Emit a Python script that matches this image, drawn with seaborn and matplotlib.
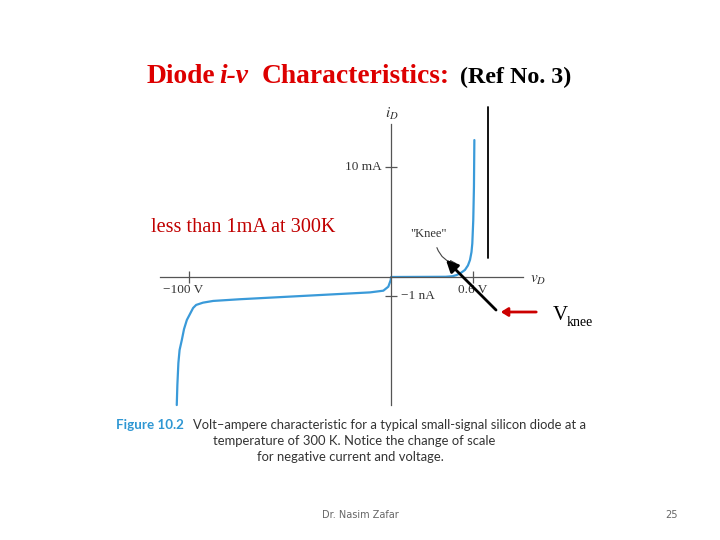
import numpy as np
import pandas as pd
import matplotlib
matplotlib.use("Agg")
import matplotlib.pyplot as plt
from matplotlib.lines import Line2D
from matplotlib.patches import FancyArrowPatch
import seaborn as sns

# ---- data ----
# reverse branch: voltage (V) and current (nA)
v_rev = [-106.1, -105.8, -105.3, -104.7, -103.6, -102.5, -101.1, -98.0, -96.5,
         -93.1, -88.1, -74.8, -10.4, -3.81, -1.34, -0.15]
i_rev_nA = [-6.74, -5.68, -4.53, -3.84, -3.32, -2.74, -2.26, -1.63, -1.47,
            -1.35, -1.26, -1.17, -0.81, -0.72, -0.51, -0.16]
# forward branch: voltage (V) and current (mA)
v_fwd = [0.0, 0.40, 0.45, 0.481, 0.512, 0.541, 0.563, 0.578, 0.589, 0.595, 0.602, 0.607, 0.610]
i_fwd_mA = [0.0, 0.02, 0.07, 0.18, 0.38, 0.64, 1.05, 1.55, 2.27, 3.06, 5.18, 8.21, 12.45]

x_ticks = [-100, 0.6]
x_tick_labels = ["\u2212100 V", "0.6 V"]
y_ticks_mA = [10, -1e-6]
y_tick_labels = ["10 mA", "\u22121 nA"]

df = pd.DataFrame({
    "v": v_rev + v_fwd,
    "i": [x * 1e-6 for x in i_rev_nA] + i_fwd_mA,
})

sns.set_theme(style="white")
plt.rcParams["font.family"] = ["Liberation Serif", "DejaVu Serif"]
plt.rcParams["mathtext.fontset"] = "stix"

W, H = 720, 540
fig = plt.figure(figsize=(7.2, 5.4), dpi=100)
fig.patch.set_facecolor("white")


def P(x, y):
    return (x / W, 1 - y / H)


# axes placed so the axis lines match the picture
L, R, T, B = 160, 523, 124, 405
ax = fig.add_axes([L / W, 1 - B / H, (R - L) / W, (B - T) / H])
ax.set_facecolor("none")


def xf(x):
    x = np.asarray(x, dtype=float)
    return np.where(x >= 0, x / 0.6, x * (202 / 82) / 100)


def xi(u):
    u = np.asarray(u, dtype=float)
    return np.where(u >= 0, u * 0.6, u * 100 * 82 / 202)


def yf(y):
    y = np.asarray(y, dtype=float)
    return np.where(y >= 0, y / 10, y * 1e6 * 19 / 110)


def yi(u):
    u = np.asarray(u, dtype=float)
    return np.where(u >= 0, u * 10, u * 110 / 19 * 1e-6)


ax.set_xscale("function", functions=(xf, xi))
ax.set_yscale("function", functions=(yf, yi))

blue = "#3a9ad9"
sns.lineplot(data=df, x="v", y="i", sort=False, estimator=None, ax=ax,
             color=blue, linewidth=1.6)
for l in ax.lines:
    l.set_clip_on(False)

ax.set_xlim(-114.4, 0.966)
ax.set_ylim(-6.737e-6, 13.91)

axc = "#555555"
for s in ["top", "right"]:
    ax.spines[s].set_visible(False)
ax.spines["left"].set_position(("data", 0))
ax.spines["bottom"].set_position(("data", 0))
for s in ["left", "bottom"]:
    ax.spines[s].set_color(axc)
    ax.spines[s].set_linewidth(0.9)
ax.set_xticks(x_ticks)
ax.set_yticks(y_ticks_mA)
ax.set_xticklabels([])
ax.set_yticklabels([])
ax.tick_params(direction="inout", length=8, width=0.9, color=axc,
               bottom=True, left=True)
ax.set_xlabel("")
ax.set_ylabel("")

tc = "#333333"
fs = 9.5
ax.text(-93.2, -0.35e-6, x_tick_labels[0], fontsize=fs, color=tc, ha="right", va="top")
ax.text(0.6, -0.35e-6, x_tick_labels[1], fontsize=fs, color=tc, ha="center", va="top")
ax.text(-4.8, 10, y_tick_labels[0], fontsize=fs, color=tc, ha="right", va="center")
ax.text(0.07, -1e-6, y_tick_labels[1], fontsize=fs, color=tc, ha="left", va="center")

fig.text(*P(392, 114), "$i_D$", fontsize=11, color=tc, ha="center", va="center")
fig.text(*P(538, 280), "$v_D$", fontsize=11, color=tc, ha="center", va="center")

# "Knee" label and small curved arrow
fig.text(*P(428.5, 234), '"Knee"', fontsize=9, color=tc, ha="center", va="center")
fig.patches.append(FancyArrowPatch(
    P(436, 245), P(460, 264), transform=fig.transFigure,
    connectionstyle="arc3,rad=0.35", arrowstyle="-|>,head_length=4,head_width=1.6",
    color="#444444", linewidth=0.8))

# annotation arrows
fig.patches.append(FancyArrowPatch(
    P(498, 312), P(444, 258), transform=fig.transFigure,
    arrowstyle="-|>,head_length=7,head_width=3.5", color="black", linewidth=2))
fig.patches.append(FancyArrowPatch(
    P(539, 312), P(498, 312), transform=fig.transFigure,
    arrowstyle="-|>,head_length=4,head_width=2.5", color="#cc0000", linewidth=2))
fig.add_artist(Line2D([488 / W, 488 / W], [1 - 107 / H, 1 - 258 / H],
                      transform=fig.transFigure, color="black", linewidth=1.3))

# title pieces
red = "#dd0000"
tfs = 19.8
fig.text(*P(147, 83), "Diode", fontsize=tfs, fontweight="bold", color=red,
         ha="left", va="baseline")
fig.text(*P(219, 83), "i-v", fontsize=tfs, fontweight="bold", fontstyle="italic",
         color=red, ha="left", va="baseline")
fig.text(*P(262, 83), "Characteristics:", fontsize=tfs, fontweight="bold", color=red,
         ha="left", va="baseline")
fig.text(*P(460, 83), "(Ref No. 3)", fontsize=17.3, fontweight="bold", color="black",
         ha="left", va="baseline")

fig.text(*P(151, 227), "less than 1mA at 300K", fontsize=14.6, color="#c00000",
         ha="left", va="center")
fig.text(*P(553, 316), "V", fontsize=15, color="black", ha="left", va="center")
fig.text(*P(567, 322), "knee", fontsize=10, color="black", ha="left", va="center")

cap_font = ["Lato", "DejaVu Sans"]
cfs = 9.4
fig.text(*P(116, 425), "Figure 10.2", fontsize=9.6, fontweight="bold", color="#2f97d3",
         ha="left", va="center", family=cap_font)
fig.text(*P(193, 425), "Volt\u2013ampere characteristic for a typical small-signal silicon diode at a",
         fontsize=cfs, color="#333333", ha="left", va="center", family=cap_font)
fig.text(*P(354, 441), "temperature of 300 K. Notice the change of scale",
         fontsize=cfs, color="#333333", ha="center", va="center", family=cap_font)
fig.text(*P(350, 457), "for negative current and voltage.",
         fontsize=cfs, color="#333333", ha="center", va="center", family=cap_font)

fig.text(*P(360, 515), "Dr. Nasim Zafar", fontsize=7, color="#666666", ha="center",
         va="center", family=["DejaVu Sans"])
fig.text(*P(671, 515), "25", fontsize=7, color="#666666", ha="center",
         va="center", family=["DejaVu Sans"])

fig.savefig("out.png", dpi=100)
